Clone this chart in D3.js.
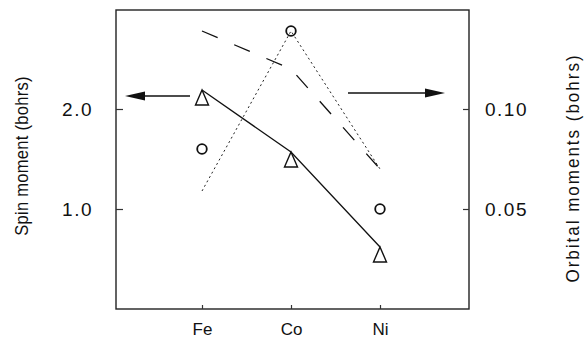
<!DOCTYPE html>
<html>
<head>
<meta charset="utf-8">
<script src="https://cdn.jsdelivr.net/npm/d3@7"></script>
<style>
  body { margin: 0; background: #fff; }
  text { font-family: "Liberation Sans", Arial, sans-serif; fill: #111; }
</style>
</head>
<body>
<div id="svgWrapper"></div>
<script>
const width = 585;
const height = 339;

// Data
const elements = ["Fe", "Co", "Ni"];
const spinMoment = [2.19, 1.57, 0.62];        // triangles + solid line (left axis)
const orbitalCircles = [0.080, 0.139, 0.050]; // open circles (right axis)
const orbitalDotted = [0.059, 0.139, 0.070];  // dotted line (right axis)
const orbitalDashed = [0.139, 0.120, 0.070];  // long-dashed line (right axis)
const spinTicks = [1.0, 2.0];
const orbitalTicks = [0.05, 0.10];

// Plot box
const boxLeft = 116, boxRight = 469, boxTop = 10, boxBottom = 309;

const svg = d3.select("#svgWrapper")
    .append("svg")
    .attr("width", width)
    .attr("height", height);

svg.append("rect")
    .attr("width", width)
    .attr("height", height)
    .attr("fill", "#fff");

// Scales
const x = d3.scalePoint().domain(elements).range([113, 469]).padding(1);
const ySpin = d3.scaleLinear().domain([0, 3]).range([boxBottom, boxTop - 1]);
const yOrb = d3.scaleLinear().domain([0, 0.15]).range([boxBottom, boxTop - 1]);

// Frame
svg.append("rect")
    .attr("x", boxLeft).attr("y", boxTop)
    .attr("width", boxRight - boxLeft).attr("height", boxBottom - boxTop)
    .attr("fill", "none")
    .attr("stroke", "#222")
    .attr("stroke-width", 1.4);

// Axes (inward ticks, frame drawn separately)
const leftAxis = svg.append("g")
    .attr("transform", `translate(${boxLeft},0)`)
    .call(d3.axisLeft(ySpin).tickValues(spinTicks).tickFormat(d3.format(".1f"))
        .tickSize(-7).tickPadding(23));

const rightAxis = svg.append("g")
    .attr("transform", `translate(${boxRight},0)`)
    .call(d3.axisRight(yOrb).tickValues(orbitalTicks).tickFormat(d3.format(".2f"))
        .tickSize(-6).tickPadding(16));

const bottomAxis = svg.append("g")
    .attr("transform", `translate(0,${boxBottom})`)
    .call(d3.axisBottom(x).tickSize(-4).tickPadding(13.5));

[leftAxis, rightAxis, bottomAxis].forEach(g => {
    g.select(".domain").remove();
    g.selectAll(".tick line").attr("stroke", "#333").attr("stroke-width", 1.2);
    g.selectAll("text").attr("fill", "#111").attr("font-family", "Liberation Sans, Arial, sans-serif");
});
leftAxis.selectAll("text").attr("font-size", 19).attr("letter-spacing", 1.5);
rightAxis.selectAll("text").attr("font-size", 19).attr("letter-spacing", 1.5);
bottomAxis.selectAll("text").attr("font-size", 17);

// Axis titles
svg.append("text")
    .attr("transform", `translate(28,156) rotate(-90) scale(1,1.15)`)
    .attr("text-anchor", "middle")
    .attr("font-size", 16.5)
    .attr("letter-spacing", 0.3)
    .text("Spin moment (bohrs)");

svg.append("text")
    .attr("transform", `translate(579,168) rotate(-90) scale(1,1.1)`)
    .attr("text-anchor", "middle")
    .attr("font-size", 17)
    .attr("letter-spacing", 2)
    .text("Orbital moments (bohrs)");

// Lines
const spinLine = d3.line().x((d, i) => x(elements[i])).y(d => ySpin(d));
const orbLine = d3.line().x((d, i) => x(elements[i])).y(d => yOrb(d));

svg.append("path")
    .attr("d", orbLine(orbitalDashed))
    .attr("fill", "none")
    .attr("stroke", "#111")
    .attr("stroke-width", 1.3)
    .attr("stroke-dasharray", "17,18");

svg.append("path")
    .attr("d", orbLine(orbitalDotted))
    .attr("fill", "none")
    .attr("stroke", "#222")
    .attr("stroke-width", 1)
    .attr("stroke-dasharray", "2,3");

svg.append("path")
    .attr("d", spinLine(spinMoment))
    .attr("fill", "none")
    .attr("stroke", "#111")
    .attr("stroke-width", 1.3);

// Triangles hang below each spin point (apex on the line)
svg.selectAll(".tri")
    .data(spinMoment)
    .enter()
    .append("path")
    .attr("class", "tri")
    .attr("d", (d, i) => {
        const cx = x(elements[i]), cy = ySpin(d);
        return `M${cx},${cy}L${cx + 6.5},${cy + 15}L${cx - 6.5},${cy + 15}Z`;
    })
    .attr("fill", "#fff")
    .attr("stroke", "#111")
    .attr("stroke-width", 1.4);

// Circles
svg.selectAll(".circ")
    .data(orbitalCircles)
    .enter()
    .append("circle")
    .attr("class", "circ")
    .attr("cx", (d, i) => x(elements[i]))
    .attr("cy", d => yOrb(d))
    .attr("r", 4.8)
    .attr("fill", "none")
    .attr("stroke", "#111")
    .attr("stroke-width", 1.8);

// Arrows pointing to the relevant axis
function arrow(x1, x2, y) {
    const dir = Math.sign(x2 - x1);
    svg.append("line")
        .attr("x1", x1).attr("x2", x2 - dir * 10)
        .attr("y1", y).attr("y2", y)
        .attr("stroke", "#111").attr("stroke-width", 1.4);
    svg.append("path")
        .attr("d", `M${x2},${y}L${x2 - dir * 20},${y - 4.5}L${x2 - dir * 20},${y + 4.5}Z`)
        .attr("fill", "#111");
}
arrow(x("Fe") - 12, boxLeft + 9, ySpin(2.13));
arrow(x("Co") + 57, boxRight - 24, yOrb(0.108));
</script>
</body>
</html>
